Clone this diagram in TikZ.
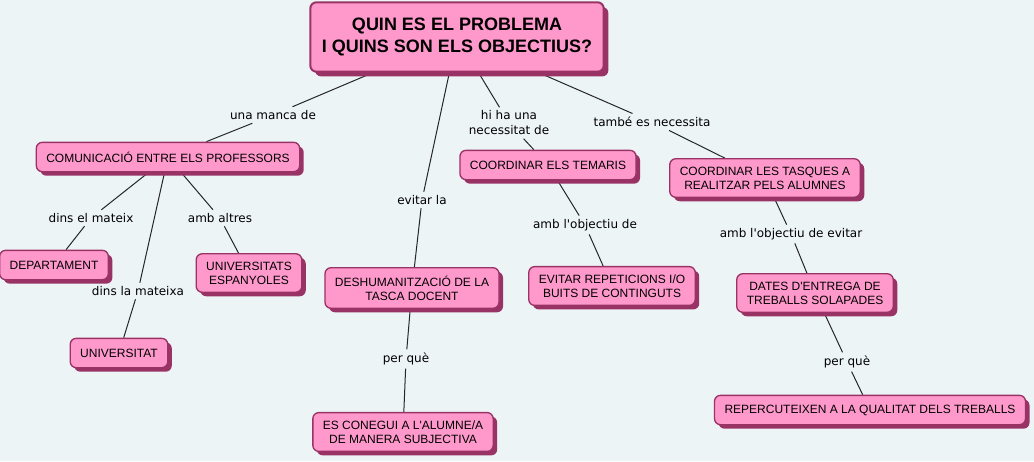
\documentclass[tikz,border=0pt]{standalone}
\usepackage{fontspec}
\setmainfont{Liberation Sans}
\newfontfamily\lblfont{DejaVu Sans}
\usetikzlibrary{positioning, shadows, backgrounds}
\definecolor{bgc}{HTML}{EDF4F6}
\definecolor{pinkc}{HTML}{FF99CC}
\definecolor{plumc}{HTML}{993366}
\definecolor{linkc}{HTML}{262626}

\begin{document}
\begin{tikzpicture}[x=0.75pt, y=-0.75pt, on grid,
    boxbase/.style={draw=plumc, fill=pinkc, rounded corners=4.5pt, align=center},
    cbox/.style={boxbase, line width=1pt, inner xsep=7.5pt, inner ysep=6pt,
        minimum height=22pt, font=\fontsize{9}{10.5}\selectfont,
        drop shadow={shadow xshift=3pt, shadow yshift=-3pt, fill=plumc, opacity=1}},
    titlebox/.style={boxbase, line width=1.5pt, minimum width=220pt, minimum height=52pt,
        font=\fontsize{13.5}{16.5}\selectfont\bfseries,
        drop shadow={shadow xshift=3.5pt, shadow yshift=-3.5pt, fill=plumc, opacity=1}},
    lbl/.style={font=\lblfont\fontsize{9}{11.25}\selectfont, inner sep=2.5pt, align=center},
    link/.style={draw=linkc, line width=0.75pt}]
    \useasboundingbox (0,0) rectangle (1034,461);

    \node[titlebox] (title) at (457,37) {QUIN ES EL PROBLEMA\\I QUINS SON ELS OBJECTIUS?};

    % left branch
    \node[lbl] (manca) [below left=58.5pt and 138pt of title] {una manca de};
    \node[cbox] (com) [below left=90pt and 216.75pt of title] {COMUNICACIÓ ENTRE ELS PROFESSORS};
    \node[lbl] (mateix) [below left=45.75pt and 57.75pt of com] {dins el mateix};
    \node[cbox] (dept) [below left=81pt and 85.5pt of com] {DEPARTAMENT};
    \node[lbl] (mateixa) [below left=100.5pt and 22.5pt of com] {dins la mateixa};
    \node[cbox] (univ) [below left=147pt and 36.75pt of com] {UNIVERSITAT};
    \node[lbl] (altres) [below right=45.75pt and 39pt of com] {amb altres};
    \node[cbox] (esp) [below right=87pt and 60.75pt of com] {UNIVERSITATS\\ESPANYOLES};

    % middle branch
    \node[lbl] (evitarla) [below left=122.25pt and 26.25pt of title] {evitar la};
    \node[cbox] (deshum) [below left=188.25pt and 33.75pt of title] {DESHUMANITZACIÓ DE LA\\TASCA DOCENT};
    \node[lbl] (perque1) [below left=53.25pt and 4.5pt of deshum] {per què};
    \node[cbox] (conegui) [below left=108pt and 6.75pt of deshum] {ES CONEGUI A L\textquotesingle ALUMNE/A\\DE MANERA SUBJECTIVA};

    \node[lbl] (hiha) [below right=64.5pt and 39pt of title] {hi ha una\\necessitat de};
    \node[cbox] (temaris) [below right=96pt and 68.25pt of title] {COORDINAR ELS TEMARIS};
    \node[lbl] (objectiu) [below right=45pt and 27.75pt of temaris] {amb l\textquotesingle objectiu de};
    \node[cbox] (repet) [below right=90.75pt and 48pt of temaris] {EVITAR REPETICIONS I/O\\BUITS DE CONTINGUTS};

    % right branch
    \node[lbl] (tambe) [below right=63.75pt and 146.25pt of title] {també es necessita};
    \node[cbox] (tasques) [below right=105.75pt and 231pt of title] {COORDINAR LES TASQUES A\\REALITZAR PELS ALUMNES};
    \node[lbl] (objevitar) [below right=42pt and 19.5pt of tasques] {amb l\textquotesingle objectiu de evitar};
    \node[cbox] (dates) [below right=86.25pt and 37.5pt of tasques] {DATES D\textquotesingle ENTREGA DE\\TREBALLS SOLAPADES};
    \node[lbl] (perque2) [below right=51.75pt and 24pt of dates] {per què};
    \node[cbox] (repercut) [below right=87.75pt and 41.25pt of dates] {REPERCUTEIXEN A LA QUALITAT DELS TREBALLS};

    \begin{pgfonlayer}{background}
        \fill[bgc] (0,0) rectangle (1034,461);
        \path[link]
        (title) edge (manca)
                edge (evitarla)
                edge (hiha)
                edge (tambe)
        (manca) edge (com)
        (com) edge (mateix)
              edge (mateixa)
              edge (altres)
        (mateix) edge (dept)
        (mateixa) edge (univ)
        (altres) edge (esp)
        (evitarla) edge (deshum)
        (deshum) edge (perque1)
        (perque1) edge (conegui)
        (hiha) edge (temaris)
        (temaris) edge (objectiu)
        (objectiu) edge (repet)
        (tambe) edge (tasques)
        (tasques) edge (objevitar)
        (objevitar) edge (dates)
        (dates) edge (perque2)
        (perque2) edge (repercut);
    \end{pgfonlayer}
\end{tikzpicture}
\end{document}
